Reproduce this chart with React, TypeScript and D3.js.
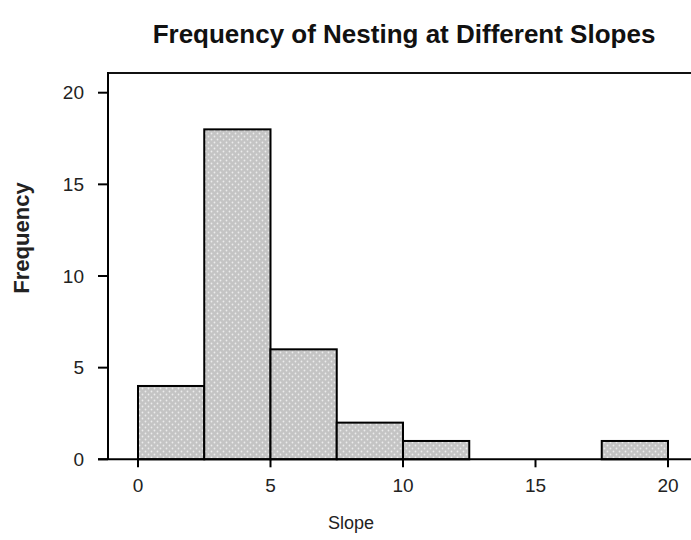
import React from "react";
import * as d3 from "d3";

const binStarts = [0, 2.5, 5, 7.5, 10, 17.5];
const binWidth = 2.5;
const counts = [4, 18, 6, 2, 1, 1];
const xTicks = [0, 5, 10, 15, 20];
const yTicks = [0, 5, 10, 15, 20];
const title = "Frequency of Nesting at Different Slopes";
const xLabel = "Slope";
const yLabel = "Frequency";

export default function App() {
  const W = 691, H = 540;
  const x = d3.scaleLinear().domain([0, 20]).range([138, 668]);
  const y = d3.scaleLinear().domain([0, 20]).range([459.3, 92.7]);
  const left = 108, top = 73, bottom = 459.3;
  const font = "Liberation Sans, Arial, sans-serif";
  return (
    <svg width={W} height={H} style={{ position: "absolute", left: 0, top: 0 }} fontFamily={font}>
      <defs>
        <pattern id="dots" width={6} height={6} patternUnits="userSpaceOnUse">
          <rect width={6} height={6} fill="#c4c4c4" />
          <circle cx={1.5} cy={1.5} r={0.9} fill="#ececec" />
          <circle cx={4.5} cy={4.5} r={0.9} fill="#ececec" />
        </pattern>
      </defs>
      <rect width={W} height={H} fill="#fff" />
      <text x={404} y={43} textAnchor="middle" fontWeight="bold" fontSize={26} fill="#111">{title}</text>
      {binStarts.map((s, i) => (
        <rect key={i} x={x(s)} y={y(counts[i])} width={x(s + binWidth) - x(s)} height={y(0) - y(counts[i])}
          fill="url(#dots)" stroke="#000" strokeWidth={2} />
      ))}
      <line x1={left} x2={W} y1={top} y2={top} stroke="#111" strokeWidth={2} />
      <line x1={left} x2={left} y1={top - 1} y2={bottom} stroke="#000" strokeWidth={2} />
      <line x1={98} x2={W} y1={bottom} y2={bottom} stroke="#000" strokeWidth={2} />
      {yTicks.map(t => (
        <g key={t}>
          <line x1={98} x2={left} y1={y(t)} y2={y(t)} stroke="#000" strokeWidth={2} />
          <text x={84} y={y(t) + 6.5} textAnchor="end" fontSize={19} fill="#222">{t}</text>
        </g>
      ))}
      {xTicks.map(t => (
        <g key={t}>
          <line x1={x(t)} x2={x(t)} y1={bottom} y2={bottom + 8} stroke="#000" strokeWidth={2} />
          <text x={x(t)} y={bottom + 33} textAnchor="middle" fontSize={19} fill="#222">{t}</text>
        </g>
      ))}
      <text x={351} y={529} textAnchor="middle" fontSize={18} fill="#222">{xLabel}</text>
      <text transform={`translate(29,238) rotate(-90)`} textAnchor="middle" fontWeight="bold" fontSize={22} fill="#222">{yLabel}</text>
    </svg>
  );
}
